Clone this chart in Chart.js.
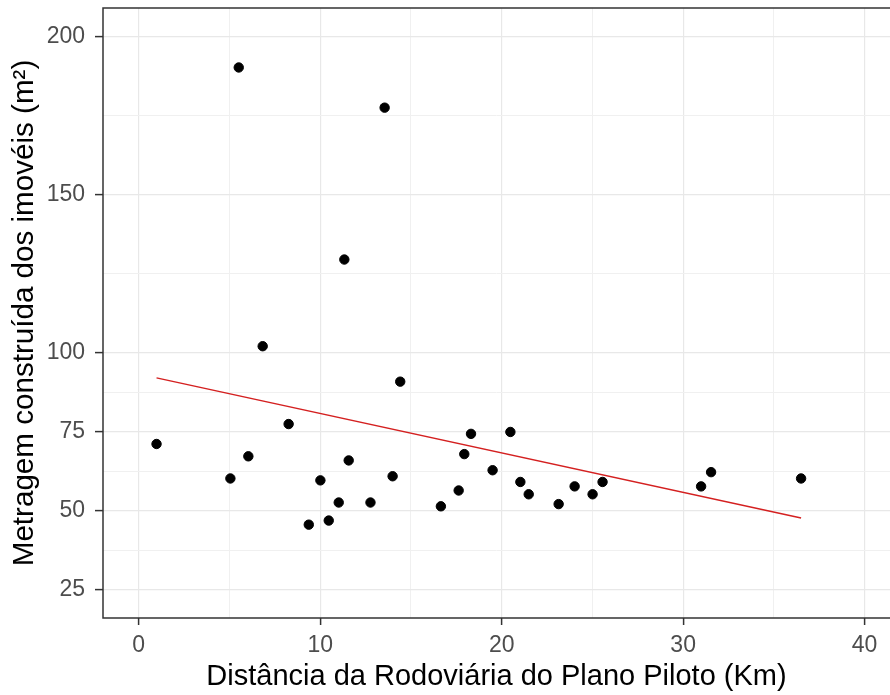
<!DOCTYPE html>
<html>
<head>
<meta charset="utf-8">
<script src="https://cdn.jsdelivr.net/npm/chart.js@4/dist/chart.umd.min.js"></script>
<style>
  html, body { margin: 0; padding: 0; background: #fff; overflow: hidden; }
  #chart { position: absolute; left: 0; top: 0; }
</style>
</head>
<body>
<canvas id="chart" width="890" height="695"></canvas>
<script>
// distance (km) and built area (m²) of each property
const distKm = [0.98, 5.05, 5.51, 6.04, 6.83, 8.26, 9.37, 10.01, 10.47, 11.02, 11.33, 11.57, 12.77, 13.55, 13.99, 14.41,
  16.65, 17.63, 17.94, 18.31, 19.5, 20.48, 21.03, 21.49, 23.14, 24.02, 25.01, 25.56, 30.99, 31.54, 36.5];
const areaM2 = [71.1, 60.2, 190.1, 67.2, 102.0, 77.4, 45.6, 59.6, 46.9, 52.6, 129.4, 65.9, 52.6, 177.4, 60.9, 90.8,
  51.4, 56.4, 67.9, 74.3, 62.8, 74.9, 59.1, 55.2, 52.1, 57.7, 55.2, 59.1, 57.7, 62.2, 60.2];

// fitted line (ends)
const trendX = [0.98, 36.5];
const trendY = [92.0, 47.7];

const xMajor = [0, 10, 20, 30, 40];
const xMinor = [5, 15, 25, 35];
const yMajor = [25, 50, 75, 100, 150, 200];
const yMinor = [37.5, 62.5, 87.5, 125, 175];

const AXIS_FONT = 'Liberation Sans, Arial, sans-serif';

function allTicks(major, minor) {
  return major.concat(minor).sort((a, b) => a - b).map(v => ({ value: v }));
}
const isMajor = (list, v) => list.includes(v);

// panel border like theme_bw; the right side falls outside the picture
const panelBorder = {
  id: 'panelBorder',
  afterDatasetsDraw(chart) {
    const { ctx, chartArea: a } = chart;
    ctx.save();
    ctx.strokeStyle = '#333333';
    ctx.lineWidth = 1.5;
    ctx.beginPath();
    ctx.moveTo(a.right + 2, a.top);
    ctx.lineTo(a.left, a.top);
    ctx.lineTo(a.left, a.bottom);
    ctx.lineTo(a.right + 2, a.bottom);
    ctx.stroke();
    ctx.restore();
  }
};

new Chart(document.getElementById('chart'), {
  type: 'scatter',
  data: {
    datasets: [
      {
        data: distKm.map((x, i) => ({ x: x, y: areaM2[i] })),
        backgroundColor: '#000',
        borderColor: '#000',
        pointRadius: 4.7,
        pointHoverRadius: 4.7,
        order: 1
      },
      {
        type: 'line',
        data: trendX.map((x, i) => ({ x: x, y: trendY[i] })),
        borderColor: '#d42020',
        borderWidth: 1.5,
        pointRadius: 0,
        fill: false,
        order: 2
      }
    ]
  },
  plugins: [panelBorder],
  options: {
    responsive: false,
    devicePixelRatio: 1,
    animation: false,
    layout: { autoPadding: false, padding: { left: 0, right: 0, top: 8, bottom: 0 } },
    plugins: { legend: { display: false }, tooltip: { enabled: false } },
    scales: {
      x: {
        type: 'linear',
        min: -1.97,
        max: 41.4,
        afterBuildTicks: s => { s.ticks = allTicks(xMajor, xMinor); },
        afterFit: s => { s.height = 77; s.paddingLeft = 0; s.paddingRight = 0; },
        border: { display: false },
        grid: {
          color: ctx => isMajor(xMajor, ctx.tick.value) ? '#e8e8e8' : '#f0f0f0',
          lineWidth: ctx => isMajor(xMajor, ctx.tick.value) ? 1.2 : 1,
          tickLength: 7,
          tickWidth: 1.5,
          tickColor: ctx => isMajor(xMajor, ctx.tick.value) ? '#333333' : 'rgba(0,0,0,0)'
        },
        ticks: {
          autoSkip: false,
          maxRotation: 0,
          padding: 7,
          color: '#4d4d4d',
          font: { family: AXIS_FONT, size: 23 },
          callback: v => isMajor(xMajor, v) ? String(v) : ''
        },
        title: {
          display: true,
          text: 'Distância da Rodoviária do Plano Piloto (Km)',
          color: '#000',
          font: { family: AXIS_FONT, size: 29 },
          padding: { top: 0, bottom: 1 }
        }
      },
      y: {
        type: 'linear',
        min: 16.1,
        max: 208.9,
        afterBuildTicks: s => { s.ticks = allTicks(yMajor, yMinor); },
        afterFit: s => { s.width = 103; s.paddingTop = 0; s.paddingBottom = 0; },
        border: { display: false },
        grid: {
          color: ctx => isMajor(yMajor, ctx.tick.value) ? '#e8e8e8' : '#f0f0f0',
          lineWidth: ctx => isMajor(yMajor, ctx.tick.value) ? 1.2 : 1,
          tickLength: 8,
          tickWidth: 1.5,
          tickColor: ctx => isMajor(yMajor, ctx.tick.value) ? '#333333' : 'rgba(0,0,0,0)'
        },
        ticks: {
          autoSkip: false,
          padding: 10,
          color: '#4d4d4d',
          font: { family: AXIS_FONT, size: 23 },
          callback: v => isMajor(yMajor, v) ? String(v) : ''
        },
        title: {
          display: true,
          text: 'Metragem construída dos imovéis (m²)',
          color: '#000',
          font: { family: AXIS_FONT, size: 29.6 },
          padding: { top: 7, bottom: 0 }
        }
      }
    }
  }
});
</script>
</body>
</html>
